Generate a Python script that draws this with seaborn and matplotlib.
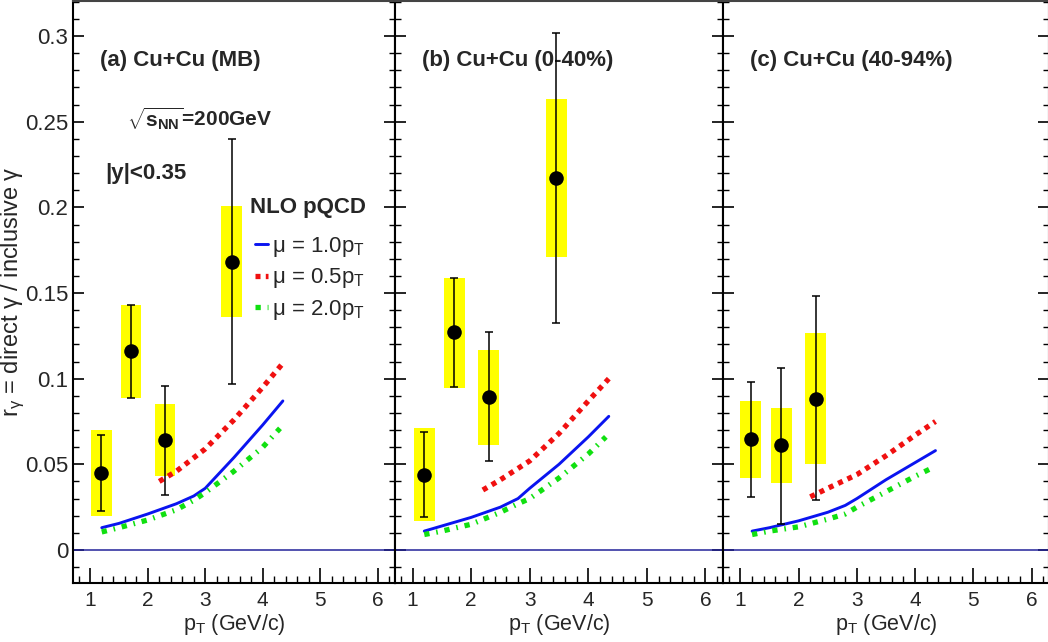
import numpy as np
import matplotlib
matplotlib.use("Agg")
import matplotlib.pyplot as plt
from matplotlib.ticker import MultipleLocator
import seaborn as sns

# data
panels = ["(a) Cu+Cu (MB)", "(b) Cu+Cu (0-40%)", "(c) Cu+Cu (40-94%)"]

pt_a = [1.19, 1.71, 2.30, 3.46]
r_a = [0.045, 0.116, 0.064, 0.168]
stat_lo_a = [0.023, 0.089, 0.032, 0.097]
stat_hi_a = [0.067, 0.143, 0.096, 0.240]
sys_lo_a = [0.020, 0.089, 0.043, 0.136]
sys_hi_a = [0.070, 0.143, 0.085, 0.201]

pt_b = [1.20, 1.71, 2.30, 3.45]
r_b = [0.044, 0.127, 0.0895, 0.217]
stat_lo_b = [0.019, 0.095, 0.052, 0.1325]
stat_hi_b = [0.069, 0.1585, 0.127, 0.302]
sys_lo_b = [0.017, 0.0945, 0.061, 0.171]
sys_hi_b = [0.071, 0.159, 0.117, 0.2635]

pt_c = [1.18, 1.70, 2.29]
r_c = [0.0647, 0.061, 0.088]
stat_lo_c = [0.031, 0.015, 0.029]
stat_hi_c = [0.098, 0.106, 0.148]
sys_lo_c = [0.042, 0.039, 0.050]
sys_hi_c = [0.087, 0.083, 0.1265]

# NLO pQCD curves
pt_mu10 = [1.2, 1.5, 2.0, 2.5, 2.8, 3.0, 3.5, 4.0, 4.35]
pt_mu05 = [2.2, 2.5, 3.0, 3.5, 4.0, 4.35]
pt_mu20 = [1.2, 1.5, 2.0, 2.5, 2.8, 3.0, 3.5, 4.0, 4.3]

mu10_a = [0.013, 0.0155, 0.021, 0.027, 0.0315, 0.036, 0.054, 0.073, 0.087]
mu05_a = [0.040, 0.046, 0.059, 0.076, 0.095, 0.109]
mu20_a = [0.0105, 0.013, 0.0175, 0.0235, 0.029, 0.0335, 0.046, 0.060, 0.071]

mu10_b = [0.011, 0.014, 0.019, 0.025, 0.030, 0.036, 0.050, 0.066, 0.078]
mu05_b = [0.035, 0.041, 0.052, 0.068, 0.087, 0.100]
mu20_b = [0.009, 0.011, 0.015, 0.022, 0.027, 0.030, 0.042, 0.056, 0.066]

mu10_c = [0.011, 0.013, 0.017, 0.022, 0.026, 0.030, 0.041, 0.051, 0.058]
mu05_c = [0.031, 0.036, 0.044, 0.055, 0.067, 0.075]
mu20_c = [0.009, 0.011, 0.0135, 0.018, 0.021, 0.025, 0.034, 0.043, 0.048]

sns.set_style("ticks")
plt.rcParams["font.family"] = ["Liberation Sans", "DejaVu Sans"]
plt.rcParams["mathtext.fontset"] = "custom"
plt.rcParams["mathtext.rm"] = "Liberation Sans"
plt.rcParams["mathtext.it"] = "Liberation Sans:italic"
plt.rcParams["mathtext.bf"] = "Liberation Sans:bold"
plt.rcParams["mathtext.default"] = "regular"

W, H = 1048, 642
fig = plt.figure(figsize=(W / 100, H / 100), dpi=100)
fig.patch.set_facecolor("white")

edges = [73, 395, 723, 1049]
top, bottom = 1, 583

pts = [pt_a, pt_b, pt_c]
rs = [r_a, r_b, r_c]
slo = [stat_lo_a, stat_lo_b, stat_lo_c]
shi = [stat_hi_a, stat_hi_b, stat_hi_c]
ylo = [sys_lo_a, sys_lo_b, sys_lo_c]
yhi = [sys_hi_a, sys_hi_b, sys_hi_c]
c10 = [mu10_a, mu10_b, mu10_c]
c05 = [mu05_a, mu05_b, mu05_c]
c20 = [mu20_a, mu20_b, mu20_c]

dot_style = (0, (0.95, 1.0))
dashdot_style = (0, (1.0, 1.3, 0.3, 1.3))

axes = []
for i in range(3):
    rect = [edges[i] / W, 1 - bottom / H, (edges[i + 1] - edges[i]) / W, (bottom - top) / H]
    ax = fig.add_axes(rect)
    axes.append(ax)
    ax.set_facecolor("white")

    x = np.array(pts[i])
    y = np.array(rs[i])
    # systematic boxes
    ax.bar(x, np.array(yhi[i]) - np.array(ylo[i]), bottom=ylo[i], width=0.36,
           color="#ffff00", edgecolor="none", zorder=1)
    ax.axhline(0, color="#23239a", lw=1.1, zorder=2)

    lab = i == 0
    sns.lineplot(x=pt_mu10, y=c10[i], ax=ax, color="#0a14f0", lw=2.1,
                 label="μ = 1.0p$_{T}$" if lab else None, legend=False, zorder=3)
    sns.lineplot(x=pt_mu05, y=c05[i], ax=ax, color="#f01010", lw=3.8,
                 linestyle=dot_style, label="μ = 0.5p$_{T}$" if lab else None,
                 legend=False, zorder=3)
    sns.lineplot(x=pt_mu20, y=c20[i], ax=ax, color="#10e010", lw=3.8,
                 linestyle=dashdot_style, label="μ = 2.0p$_{T}$" if lab else None,
                 legend=False, zorder=3)

    ax.errorbar(x, y, yerr=[y - np.array(slo[i]), np.array(shi[i]) - y], fmt="none",
                ecolor="black", elinewidth=1.1, capsize=3, capthick=1.1, zorder=4)
    sns.scatterplot(x=x, y=y, ax=ax, color="black", s=110, edgecolor="black",
                    linewidth=0, zorder=5, legend=False)

    ax.set_xlim(0.7, 6.3)
    ax.set_ylim(-0.0193, 0.3205)
    ax.xaxis.set_major_locator(MultipleLocator(1))
    ax.xaxis.set_minor_locator(MultipleLocator(0.2))
    ax.yaxis.set_major_locator(MultipleLocator(0.05))
    ax.yaxis.set_minor_locator(MultipleLocator(0.01))
    ax.tick_params(axis="both", which="both", direction="in", right=True, top=False,
                   color="black")
    ax.tick_params(axis="x", which="major", length=11, width=1.2, labelsize=15, pad=6)
    ax.tick_params(axis="x", which="minor", length=5, width=1.0)
    ax.tick_params(axis="y", which="major", length=8, width=1.2, labelsize=16, pad=3.5)
    ax.tick_params(axis="y", which="minor", length=4, width=1.0)
    ax.set_xticks([1, 2, 3, 4, 5, 6])
    ax.set_xticklabels(["1", "2", "3", "4", "5", "6"])
    if i > 0:
        ax.tick_params(axis="y", labelleft=False)
    else:
        ax.set_yticks([0, 0.05, 0.1, 0.15, 0.2, 0.25, 0.3])
        ax.set_yticklabels(["0", "0.05", "0.1", "0.15", "0.2", "0.25", "0.3"])
    for s in ax.spines.values():
        s.set_linewidth(1.5)
        s.set_color("black")
    ax.spines["top"].set_color("#444444")

    ax.set_xlabel("p$_{T}$ (GeV/c)", fontsize=15.5)
    ax.xaxis.set_label_coords(0.5, -0.05)
    ax.xaxis.label.set_va("top")

    ax.text(0.7 + (100 - 73) / 57.5 if i == 0 else 0.7 + 27 / 58.5,
            0.2855, panels[i], fontsize=16, fontweight="bold", va="center", ha="left")

ax = axes[0]
ax.set_ylabel("r$_{γ}$ = direct γ / inclusive γ", fontsize=17)
ax.yaxis.set_label_coords(-0.143, 0.5)
ax.text(1.64, 0.2517, r"$\sqrt{\mathbf{s}_{\mathbf{NN}}}$=200GeV", fontsize=15,
        fontweight="bold", va="center", ha="left")
ax.text(1.26, 0.2197, "|y|<0.35", fontsize=16, fontweight="bold", va="center", ha="left")
ax.text(3.78, 0.2, "NLO pQCD", fontsize=16, fontweight="bold", va="center", ha="left")

handles, labels = ax.get_legend_handles_labels()
leg = ax.legend(handles, labels, loc="upper left",
                bbox_to_anchor=((255 - 73) / 322, 1 - (235 - 1) / 582),
                frameon=False, fontsize=16, handlelength=0.6, handletextpad=0.15,
                labelspacing=0.33, borderpad=0, borderaxespad=0)

fig.savefig("out.png", dpi=100, facecolor="white")
